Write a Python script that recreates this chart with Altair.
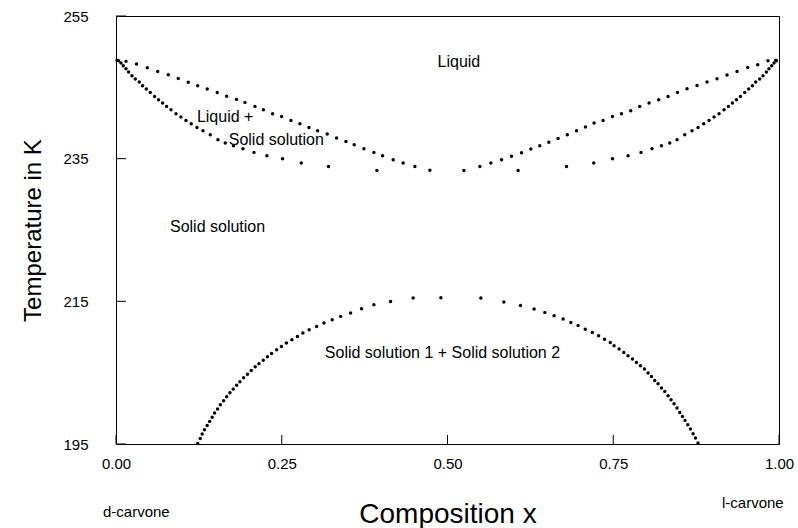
import altair as alt
import pandas as pd

# ---- data (composition x, temperature K) ----
liq_left_x = [0.0015, 0.0151, 0.0309, 0.0472, 0.0629, 0.0788, 0.0939, 0.1090, 0.1232, 0.1376,
              0.1527, 0.1669, 0.1817, 0.1945, 0.2096, 0.2224, 0.2362, 0.2498, 0.2638, 0.2774,
              0.2910, 0.3041, 0.3186, 0.3327, 0.3468, 0.3593, 0.3739, 0.3890, 0.4021, 0.4181,
              0.4331, 0.4508, 0.4734]
liq_left_T = [248.80, 248.64, 248.27, 247.75, 247.23, 246.77, 246.25, 245.72, 245.23, 244.77,
              244.29, 243.76, 243.31, 242.89, 242.33, 241.86, 241.30, 240.92, 240.36, 239.90,
              239.38, 238.92, 238.46, 237.90, 237.42, 236.96, 236.40, 235.88, 235.41, 234.85,
              234.39, 233.91, 233.38]

liq_right_x = [0.5247, 0.5488, 0.5654, 0.5815, 0.5966, 0.6116, 0.6257, 0.6392, 0.6528, 0.6668,
               0.6807, 0.6946, 0.7081, 0.7211, 0.7347, 0.7488, 0.7624, 0.7764, 0.7900, 0.8040,
               0.8186, 0.8327, 0.8468, 0.8613, 0.8764, 0.8915, 0.9065, 0.9216, 0.9367, 0.9528,
               0.9679, 0.9834, 0.9950]
liq_right_T = [233.35, 233.91, 234.39, 234.85, 235.34, 235.84, 236.35, 236.82, 237.31, 237.83,
               238.36, 238.92, 239.44, 240.00, 240.36, 240.92, 241.30, 241.72, 242.33, 242.80,
               243.27, 243.73, 244.29, 244.81, 245.27, 245.75, 246.21, 246.73, 247.23, 247.79,
               248.17, 248.73, 248.80]

sol_left_x = [0.0039, 0.0075, 0.0110, 0.0151, 0.0190, 0.0241, 0.0291, 0.0351, 0.0401, 0.0457,
              0.0517, 0.0582, 0.0642, 0.0703, 0.0763, 0.0829, 0.0905, 0.0980, 0.1055, 0.1135,
              0.1221, 0.1312, 0.1422, 0.1538, 0.1648, 0.1773, 0.1915, 0.2081, 0.2276, 0.2512,
              0.2794, 0.3205, 0.3935]
sol_left_T = [248.73, 248.41, 248.03, 247.61, 247.15, 246.63, 246.17, 245.75, 245.23, 244.77,
              244.29, 243.73, 243.27, 242.80, 242.33, 241.86, 241.30, 240.84, 240.36, 239.90,
              239.38, 238.92, 238.36, 237.66, 237.20, 236.82, 236.40, 235.88, 235.41, 234.99,
              234.39, 233.91, 233.35]

sol_right_x = [0.9961, 0.9925, 0.9890, 0.9849, 0.9810, 0.9759, 0.9709, 0.9649, 0.9599, 0.9543,
               0.9483, 0.9418, 0.9358, 0.9297, 0.9237, 0.9171, 0.9095, 0.9020, 0.8945, 0.8865,
               0.8779, 0.8688, 0.8578, 0.8462, 0.8352, 0.8227, 0.8085, 0.7919, 0.7724, 0.7488,
               0.7206, 0.6795, 0.6065]
sol_right_T = [248.73, 248.41, 248.03, 247.61, 247.15, 246.63, 246.17, 245.75, 245.23, 244.77,
               244.29, 243.73, 243.27, 242.80, 242.33, 241.86, 241.30, 240.84, 240.36, 239.90,
               239.38, 238.92, 238.36, 237.66, 237.20, 236.82, 236.40, 235.88, 235.41, 234.99,
               234.39, 233.91, 233.35]

gap_left_x = [0.4900, 0.4482, 0.4141, 0.3890, 0.3704, 0.3538, 0.3388, 0.3261, 0.3136, 0.3026,
              0.2914, 0.2819, 0.2736, 0.2653, 0.2570, 0.2495, 0.2423, 0.2347, 0.2284, 0.2221,
              0.2156, 0.2100, 0.2040, 0.1983, 0.1925, 0.1869, 0.1820, 0.1768, 0.1719, 0.1669,
              0.1624, 0.1574, 0.1532, 0.1487, 0.1450, 0.1413, 0.1375, 0.1334, 0.1300, 0.1271,
              0.1233]
gap_left_T = [215.51, 215.47, 214.99, 214.53, 213.97, 213.36, 212.89, 212.42, 211.96, 211.48,
              211.02, 210.56, 210.08, 209.62, 209.16, 208.68, 208.22, 207.70, 207.24, 206.75,
              206.25, 205.83, 205.30, 204.77, 204.29, 203.73, 203.24, 202.72, 202.19, 201.63,
              201.07, 200.51, 199.92, 199.34, 198.75, 198.17, 197.59, 197.00, 196.41, 195.78,
              195.08]

gap_right_x = [0.5503, 0.5850, 0.6101, 0.6306, 0.6468, 0.6608, 0.6744, 0.6860, 0.6970, 0.7078,
               0.7184, 0.7279, 0.7369, 0.7455, 0.7512, 0.7588, 0.7659, 0.7723, 0.7790, 0.7850,
               0.7910, 0.7971, 0.8025, 0.8076, 0.8126, 0.8176, 0.8227, 0.8277, 0.8327, 0.8372,
               0.8417, 0.8462, 0.8503, 0.8544, 0.8583, 0.8624, 0.8664, 0.8704, 0.8740, 0.8779]
gap_right_T = [215.47, 214.90, 214.43, 213.92, 213.45, 212.98, 212.52, 212.04, 211.62, 211.09,
               210.64, 210.18, 209.69, 209.24, 208.78, 208.32, 207.84, 207.38, 206.91, 206.44,
               205.97, 205.51, 204.95, 204.47, 203.91, 203.45, 202.85, 202.37, 201.77, 201.21,
               200.65, 200.04, 199.43, 198.87, 198.31, 197.70, 197.10, 196.44, 195.84, 195.14]

x_ticks = [0.0, 0.25, 0.5, 0.75, 1.0]
y_ticks = [195, 215, 235, 255]

ann_text = ["Liquid", "Liquid +", "Solid solution", "Solid solution",
            "Solid solution 1 + Solid solution 2"]
ann_x = [0.485, 0.122, 0.170, 0.0814, 0.315]
ann_T = [248.6, 240.9, 237.66, 225.46, 207.8]

# ---- build tables ----
xs = liq_left_x + liq_right_x + sol_left_x + sol_right_x + gap_left_x + gap_right_x
Ts = liq_left_T + liq_right_T + sol_left_T + sol_right_T + gap_left_T + gap_right_T
pts = pd.DataFrame({"x": xs, "T": Ts})
ann = pd.DataFrame({"x": ann_x, "T": ann_T, "label": ann_text})

W, H = 663, 428
FONT = "Liberation Sans"

xscale = alt.Scale(domain=[0, 1], nice=False, zero=False)
yscale = alt.Scale(domain=[195, 255], nice=False, zero=False)

points = alt.Chart(pts).mark_circle(size=12, color="black", opacity=1).encode(
    x=alt.X("x:Q", scale=xscale,
            axis=alt.Axis(values=x_ticks, format=".2f", ticks=False, domain=False, grid=False,
                          labelFontSize=15, labelPadding=12, labelColor="black",
                          labelFont=FONT, labelFlush=False,
                          title="Composition x", titleFontSize=28, titleFont=FONT,
                          titleFontWeight="normal", titleColor="black",
                          titleBaseline="alphabetic", titleY=78, titleX=W / 2)),
    y=alt.Y("T:Q", scale=yscale,
            axis=alt.Axis(values=y_ticks, format="d", ticks=False, domain=False, grid=False,
                          labelFontSize=15, labelPadding=28, labelColor="black",
                          labelFont=FONT, labelFlush=False,
                          title="Temperature in K", titleFontSize=24, titleFont=FONT,
                          titleFontWeight="normal", titleColor="black",
                          titleBaseline="middle", titleX=-83, titleY=H / 2, titleAngle=-90)),
)

ytick_rules = alt.Chart(pd.DataFrame({"T": y_ticks})).mark_rule(color="black", strokeWidth=1).encode(
    y=alt.Y("T:Q", scale=yscale), x=alt.value(0), x2=alt.value(10))
xtick_rules = alt.Chart(pd.DataFrame({"x": x_ticks})).mark_rule(color="black", strokeWidth=1).encode(
    x=alt.X("x:Q", scale=xscale), y=alt.value(H), y2=alt.value(H - 9))

labels = alt.Chart(ann).mark_text(align="left", baseline="middle", fontSize=16, font=FONT,
                                  color="black").encode(
    x=alt.X("x:Q", scale=xscale), y=alt.Y("T:Q", scale=yscale), text="label:N")

end_a = alt.Chart(pd.DataFrame({"t": ["d-carvone"]})).mark_text(
    align="left", baseline="middle", fontSize=15, font=FONT, color="black").encode(
    text="t:N", x=alt.value(-13), y=alt.value(496))
end_b = alt.Chart(pd.DataFrame({"t": ["l-carvone"]})).mark_text(
    align="left", baseline="middle", fontSize=15, font=FONT, color="black").encode(
    text="t:N", x=alt.value(606), y=alt.value(487))

chart = alt.layer(ytick_rules, xtick_rules, points, labels, end_a, end_b).properties(
    width=W, height=H,
    autosize=alt.AutoSizeParams(type="none"),
    padding={"left": 116, "top": 16, "right": 19, "bottom": 84},
    background="white",
).configure_view(stroke="black", strokeWidth=1)

chart.save("out.html", embed_options={"renderer": "svg", "actions": False})
